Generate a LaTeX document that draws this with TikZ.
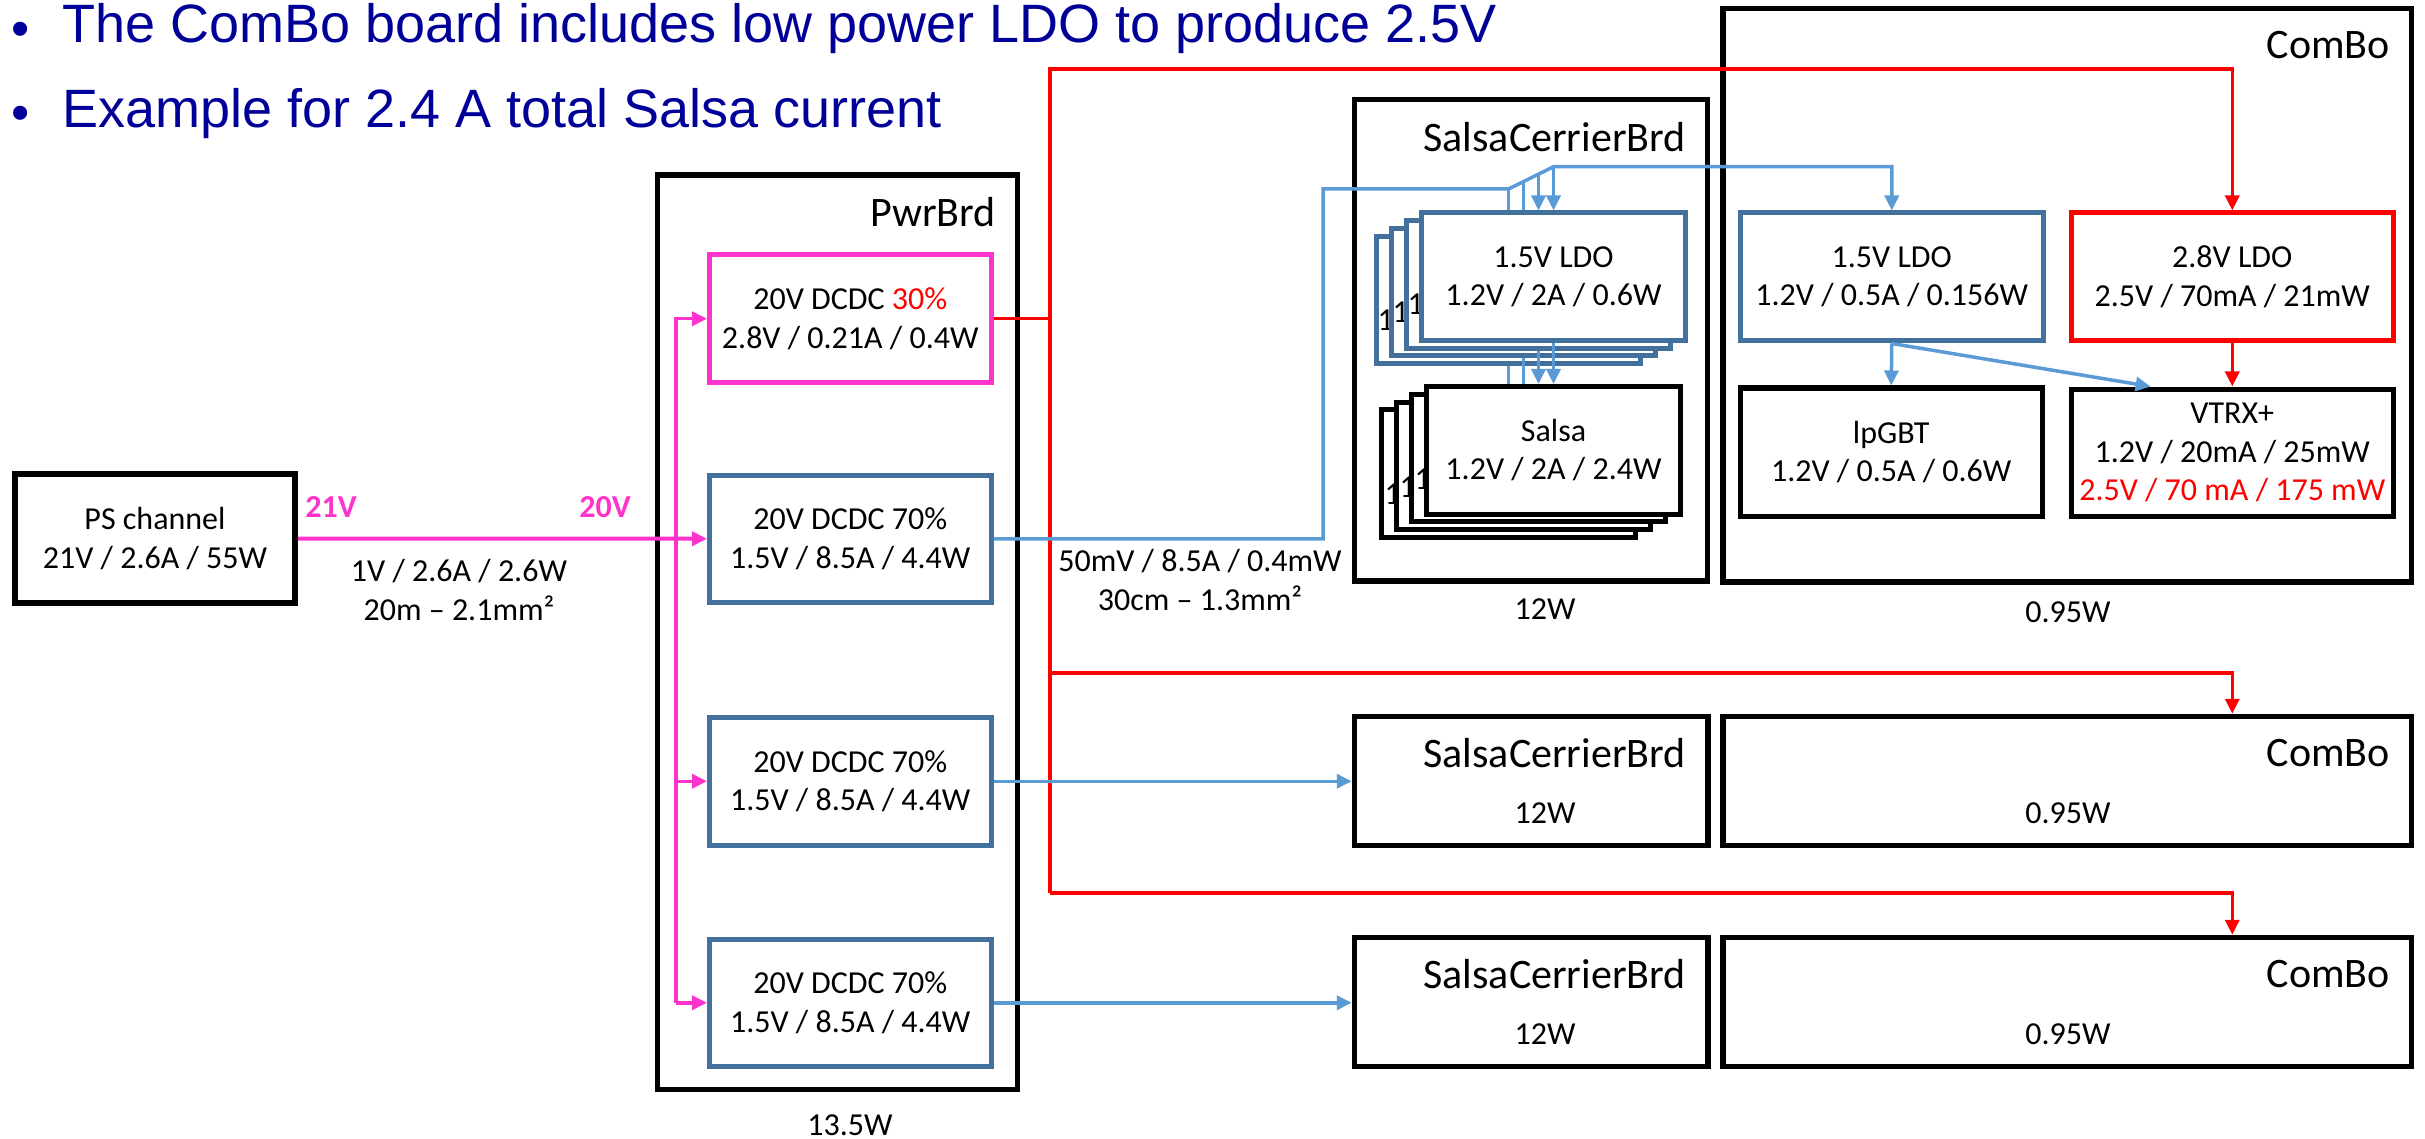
\documentclass[tikz,border=0pt]{standalone}
\usepackage{fontspec}
\setmainfont{Carlito}
\newfontfamily\titlefont{Liberation Sans}
\usetikzlibrary{arrows.meta,calc}
\definecolor{pinkc}{RGB}{255,51,204}
\definecolor{redc}{RGB}{255,0,0}
\definecolor{bluec}{RGB}{91,155,213}
\definecolor{boxblue}{RGB}{65,113,156}
\definecolor{navy}{RGB}{0,0,153}
\tikzset{
 bbox/.style={draw=black, line width=5.5pt, fill=white, inner sep=0pt, align=center},
 ibox/.style={draw=black, line width=5pt, fill=white, inner sep=0pt, align=center},
 bluebox/.style={ibox, draw=boxblue},
 redbox/.style={ibox, draw=redc},
 pinkbox/.style={ibox, draw=pinkc},
 sz/.style 2 args={minimum width=#1, minimum height=#2},
 brdlbl/.style={anchor=east, inner sep=0pt, font=\fontsize{42}{50}\selectfont},
 txt/.style={inner sep=0pt, align=center},
 tipA/.style={-{Triangle[length=15pt,width=14pt]}},
 pinkln/.style={draw=pinkc, line width=3.5pt},
 redln/.style={draw=redc, line width=3.5pt},
 blueln/.style={draw=bluec, line width=3.5pt},
 ttl/.style={inner sep=0pt, text=navy, font={\titlefont\fontsize{54}{64}\selectfont}},
 bul/.style={inner sep=0pt, text=navy, font={\titlefont\fontsize{52}{60}\selectfont}},
 pinklbl/.style={inner sep=0pt, text=pinkc, font={\bfseries\fontsize{32}{38}\selectfont}}
}
\begin{document}
\begin{tikzpicture}[x=1pt,y=-1pt,font=\fontsize{32}{38.5}\selectfont]
\useasboundingbox (0,0) rectangle (2425,1139);

% title
\node[bul, anchor=base] (bul1) at (21,47) {•};
\node[ttl, anchor=base west] (tit1) at (62,43) {The ComBo board includes low power LDO to produce 2.5V};
\node[bul, anchor=base] (bul2) at (21,131) {•};
\node[ttl, anchor=base west] (tit2) at (62,128) {Example for 2.4 A total Salsa current};

% containers
\node[bbox, sz={280pt}{129pt}] (ps) at (155,538.5) {PS channel\\21V / 2.6A / 55W};
\node[bbox, sz={360pt}{914.5pt}] (pwr) at (837.5,632.25) {};
\node[bbox, sz={353pt}{481.5pt}] (sc1) at (1531,340.25) {};
\node[bbox, sz={688.5pt}{573.5pt}] (cb1) at (2067.25,295.25) {};
\node[bbox, sz={353.5pt}{129pt}] (sc2) at (1531.25,781) {};
\node[bbox, sz={688.5pt}{129pt}] (cb2) at (2067.25,781) {};
\node[bbox, sz={353.5pt}{129pt}] (sc3) at (1531.25,1002) {};
\node[bbox, sz={688.5pt}{129pt}] (cb3) at (2067.25,1002) {};

% power board converters
\node[pinkbox, sz={281.5pt}{127.5pt}] (dc1) at (850.25,318.75) {20V DCDC \textcolor{redc}{30\%}\\2.8V / 0.21A / 0.4W};
\node[bluebox, sz={281.5pt}{127.5pt}] (dc2) at (850.25,538.75) {20V DCDC 70\%\\1.5V / 8.5A / 4.4W};
\node[bluebox, sz={281.5pt}{127.5pt}] (dc3) at (850.25,781.25) {20V DCDC 70\%\\1.5V / 8.5A / 4.4W};
\node[bluebox, sz={281.5pt}{127.5pt}] (dc4) at (850.25,1002.75) {20V DCDC 70\%\\1.5V / 8.5A / 4.4W};

% LDO stack
\node[bluebox, sz={264pt}{127.5pt}] (lb3) at (1508.5,300) {};
\node[txt, anchor=west] (pk3) at ($(lb3.west)+(3.5,20)$) {1};
\node[bluebox, sz={264pt}{127.5pt}] (lb2) at (1523.5,292.25) {};
\node[txt, anchor=west] (pk2) at ($(lb2.west)+(3.5,20)$) {1};
\node[bluebox, sz={264pt}{127.5pt}] (lb1) at (1538.5,284.5) {};
\node[txt, anchor=west] (pk1) at ($(lb1.west)+(3.5,20)$) {1};
\node[bluebox, sz={264pt}{127.5pt}] (lf) at (1553.5,276.75) {1.5V LDO\\1.2V / 2A / 0.6W};

% Salsa stack
\node[ibox, sz={254pt}{127.5pt}] (sb3) at (1508.5,473.5) {};
\node[txt, anchor=west] (sp3) at ($(sb3.west)+(5.5,21)$) {1};
\node[ibox, sz={254pt}{127.5pt}] (sb2) at (1523.5,465.75) {};
\node[txt, anchor=west] (sp2) at ($(sb2.west)+(5.5,21)$) {1};
\node[ibox, sz={254pt}{127.5pt}] (sb1) at (1538.5,458) {};
\node[txt, anchor=west] (sp1) at ($(sb1.west)+(5.5,21)$) {1};
\node[ibox, sz={254pt}{127.5pt}] (sf) at (1553.5,450.25) {Salsa\\1.2V / 2A / 2.4W};

% ComBo internals
\node[bluebox, sz={302.5pt}{128pt}] (ldo) at (1891.75,277) {1.5V LDO\\1.2V / 0.5A / 0.156W};
\node[ibox, sz={301.5pt}{128.5pt}] (lp) at (1891.25,452.25) {lpGBT\\1.2V / 0.5A / 0.6W};
\node[redbox, sz={321.5pt}{128pt}] (ldo28) at (2232.25,277) {2.8V LDO\\2.5V / 70mA / 21mW};
\node[ibox, sz={321.5pt}{127pt}] (vtrx) at (2232.25,452.5) {VTRX+\\1.2V / 20mA / 25mW\\\textcolor{redc}{2.5V / 70 mA / 175 mW}};

% board labels
\node[brdlbl] (pwrL) at (996,212) {PwrBrd};
\node[brdlbl] (sc1L) at (1686,137) {SalsaCerrierBrd};
\node[brdlbl] (cb1L) at (2390,45) {ComBo};
\node[brdlbl] (sc2L) at (1686,753) {SalsaCerrierBrd};
\node[brdlbl] (cb2L) at (2390,753) {ComBo};
\node[brdlbl] (sc3L) at (1686,974.5) {SalsaCerrierBrd};
\node[brdlbl] (cb3L) at (2390,974.5) {ComBo};
\node[txt] (sc1W) at (1545,609) {12W};
\node[txt] (cb1W) at (2068,612) {0.95W};
\node[txt] (pwrW) at (850,1125) {13.5W};
\node[txt] (sc2W) at (1545,813) {12W};
\node[txt] (cb2W) at (2068,813) {0.95W};
\node[txt] (sc3W) at (1545,1034.5) {12W};
\node[txt] (cb3W) at (2068,1034.5) {0.95W};

% cable labels
\node[pinklbl] (v21) at (331,507) {21V};
\node[pinklbl] (v20) at (605,507) {20V};
\node[txt] (cab1) at (459,590) {1V / 2.6A / 2.6W\\20m – 2.1mm²};
\node[txt] (cab2) at (1200,580) {50mV / 8.5A / 0.4mW\\30cm – 1.3mm²};

% pink connectors
\draw[pinkln, line width=4pt, tipA] (ps.east) -- (dc2.west);
\coordinate (pbus) at (676,0);
\draw[pinkln, tipA] (pbus |- dc4.west) |- (dc1.west);
\draw[pinkln, tipA] (pbus |- dc3.west) -- (dc3.west);
\draw[pinkln, tipA] (pbus |- dc4.west) -- (dc4.west);

% red connectors
\coordinate (rtop) at (1050,69);
\coordinate (rmid) at (1050,673);
\coordinate (rbot) at (1050,893);
\draw[redln] (dc1.east) -- (dc1.east -| rtop);
\draw[redln, tipA] (rbot) -- (rtop) -| (ldo28.north);
\draw[redln, tipA] (rmid) -| (ldo28.north |- cb2.north);
\draw[redln, tipA] (rbot) -| (ldo28.north |- cb3.north);
\draw[redln, tipA] (ldo28.south) -- (vtrx.north);

% blue connectors
\coordinate (fbend) at (1323,189);
\coordinate (fa) at (1508.5,189);
\coordinate (fb) at (1553.5,166.75);
\coordinate (fc2) at ($(fa)!1/3!(fb)$);
\coordinate (fc3) at ($(fa)!2/3!(fb)$);
\draw[blueln, tipA] (dc2.east) -| (fbend) -- (fa) -- (fb) -| (ldo.north);
\draw[blueln] (fa) -- (fa |- lf.north);
\draw[blueln] (fc2) -- (fc2 |- lf.north);
\draw[blueln, tipA] (fc3) -- (fc3 |- lf.north);
\draw[blueln, tipA] (fb) -- (lf.north);
\draw[blueln] (lb3.south) -- (lb3.south |- sf.north);
\draw[blueln] (lb2.south) -- (lb2.south |- sf.north);
\draw[blueln, tipA] (lb1.south) -- (lb1.south |- sf.north);
\draw[blueln, tipA] (lf.south) -- (sf.north);
\draw[blueln, tipA] (ldo.south) -- (lp.north);
\draw[blueln, tipA] (ldo.south) -- ($(vtrx.north west)!0.25!(vtrx.north east)$);
\draw[blueln, tipA] (dc3.east) -- (dc3.east -| sc2.west);
\draw[blueln, tipA] (dc4.east) -- (dc4.east -| sc3.west);
\end{tikzpicture}
\end{document}
